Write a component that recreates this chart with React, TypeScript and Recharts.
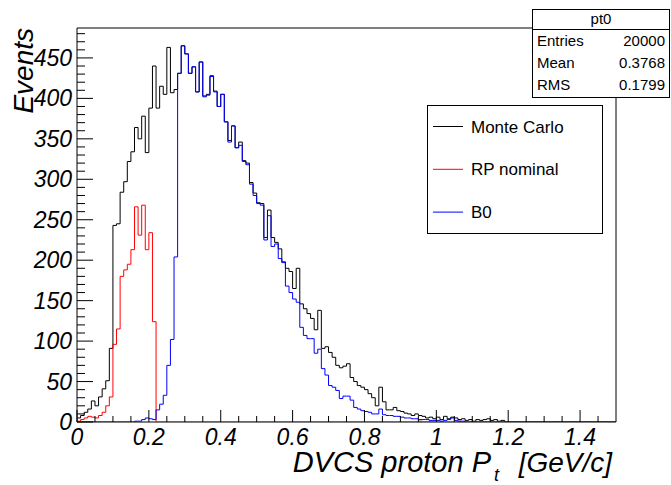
import React from 'react';
import { LineChart, Line, XAxis, YAxis, ReferenceArea } from 'recharts';

// ---- data (events per 0.01 GeV/c bin, bins start at 0) ----
const BIN_WIDTH = 0.01;
const N_BINS = 150;

const mcCounts = [
  5, 8, 12, 16, 26, 20, 31, 41, 51, 91,
  243, 245, 284, 297, 322, 334, 364, 350, 378, 333,
  388, 440, 388, 415, 405, 463, 407, 411, 431, 465,
  455, 431, 439, 408, 445, 403, 405, 428, 409, 390,
  405, 371, 348, 366, 339, 346, 323, 320, 296, 283,
  271, 270, 228, 262, 228, 222, 214, 198, 190, 186,
  165, 190, 146, 140, 134, 128, 114, 138, 91, 93,
  86, 80, 70, 67, 69, 72, 55, 50, 45, 43,
  40, 35, 30, 20, 43, 25, 15, 15, 18, 14,
  13, 11, 10, 8, 10, 8, 7, 5, 6, 4,
  6, 3, 7, 4, 6, 5, 3, 4, 2, 3,
  1, 3, 2, 3, 4, 2, 3, 1, 2, 0,
];

const rpCounts = [
  1, 3, 5, 7, 6, 5, 8, 12, 20, 31,
  96, 115, 180, 188, 195, 213, 266, 231, 268, 213,
  234, 124, 0, 0, 0, 0, 0, 0, 0, 0,
  0, 0, 0, 0, 0, 0, 0, 0, 0, 0,
  0, 0, 0, 0, 0, 0, 0, 0, 0, 0,
  0, 0, 0, 0, 0, 0, 0, 0, 0, 0,
  0, 0, 0, 0, 0, 0, 0, 0, 0, 0,
  0, 0, 0, 0, 0, 0, 0, 0, 0, 0,
  0, 0, 0, 0, 0, 0, 0, 0, 0, 0,
  0, 0, 0, 0, 0, 1, 0, 0, 1, 0,
  0, 0, 0, 0, 0, 0, 1, 0, 0, 0,
];

const b0Counts = [
  0, 0, 0, 0, 0, 0, 0, 0, 0, 0,
  0, 0, 0, 0, 0, 0, 1, 1, 3, 5,
  4, 3, 15, 22, 33, 70, 102, 204, 431, 465,
  455, 431, 439, 408, 445, 402, 404, 427, 408, 390,
  405, 371, 346, 366, 339, 342, 322, 318, 294, 280,
  270, 268, 225, 255, 217, 220, 202, 197, 168, 160,
  152, 148, 117, 107, 103, 103, 85, 90, 66, 58,
  45, 43, 39, 29, 32, 32, 27, 18, 16, 14,
  13, 12, 10, 10, 16, 9, 8, 8, 7, 7,
  6, 5, 5, 4, 4, 3, 3, 3, 2, 2,
  2, 1, 2, 3, 5, 2, 1, 1, 0, 0,
];

const seriesNames = ['Monte Carlo', 'RP nominal', 'B0'];
const seriesKeys = ['mc', 'rp', 'b0'];
const seriesColors = ['#000000', '#ff0000', '#0000ff'];

const xMajorTicks = [0, 0.2, 0.4, 0.6, 0.8, 1, 1.2, 1.4];
const xMajorLabels = ['0', '0.2', '0.4', '0.6', '0.8', '1', '1.2', '1.4'];
const yMajorTicks = [0, 50, 100, 150, 200, 250, 300, 350, 400, 450];
const Y_MAX = 487;
const X_MAX = 1.5;

const statsTitle = 'pt0';
const statsRows = [
  ['Entries', '20000'],
  ['Mean', '0.3768'],
  ['RMS', '0.1799'],
];

// ---- build table ----
const table: any[] = [];
for (let i = 0; i <= N_BINS; i++) {
  const x = Math.round(i * BIN_WIDTH * 1000) / 1000;
  table.push({
    x,
    mc: i < N_BINS ? mcCounts[i] ?? 0 : 0,
    rp: i < N_BINS ? rpCounts[i] ?? 0 : 0,
    b0: i < N_BINS ? b0Counts[i] ?? 0 : 0,
  });
}

const xTickValues: number[] = [];
for (let i = 0; i < 30; i++) xTickValues.push(Math.round(i * 5) / 100);
const yTickValues: number[] = [];
for (let v = 0; v <= 480; v += 10) yTickValues.push(v);

const AXIS_FONT = '"Liberation Sans", Arial, Helvetica, sans-serif';

const XTick = (props: any) => {
  const { x, y, payload } = props;
  const v = payload.value;
  const idx = xMajorTicks.findIndex((t) => Math.abs(t - v) < 1e-6);
  const major = idx >= 0;
  return (
    <g>
      <line x1={x} x2={x} y1={y} y2={y - (major ? 12 : 6)} stroke="#000" strokeWidth={1} />
      {major && (
        <text x={x} y={y + 23} textAnchor="middle" fontSize={23} fontStyle="italic" fontFamily={AXIS_FONT} fill="#000">
          {xMajorLabels[idx]}
        </text>
      )}
    </g>
  );
};

const YTick = (props: any) => {
  const { x, y, payload } = props;
  const v = payload.value;
  const major = yMajorTicks.includes(v);
  return (
    <g>
      <line x1={x} x2={x + (major ? 16 : 8)} y1={y} y2={y} stroke="#000" strokeWidth={1} />
      {major && (
        <text x={x - 5} y={y + 8} textAnchor="end" fontSize={23} fontStyle="italic" fontFamily={AXIS_FONT} fill="#000">
          {String(v)}
        </text>
      )}
    </g>
  );
};

export default function App() {
  return (
    <div style={{ position: 'absolute', left: 0, top: 0, width: 671, height: 485, background: '#fff' }}>
      <LineChart
        width={671}
        height={485}
        data={table}
        margin={{ top: 28, right: 55, bottom: 33, left: 37 }}
      >
        <XAxis
          dataKey="x"
          type="number"
          domain={[0, X_MAX]}
          ticks={xTickValues}
          interval={0}
          allowDataOverflow
          height={30}
          tickSize={0}
          tickMargin={0}
          axisLine={false}
          tickLine={false}
          tick={(p: any) => <XTick {...p} />}
        />
        <YAxis
          type="number"
          domain={[0, Y_MAX]}
          ticks={yTickValues}
          interval={0}
          allowDataOverflow
          width={40}
          tickSize={0}
          tickMargin={0}
          axisLine={false}
          tickLine={false}
          tick={(p: any) => <YTick {...p} />}
        />
        <ReferenceArea x1={0} x2={X_MAX} y1={0} y2={Y_MAX} fill="none" stroke="#000" strokeWidth={1} fillOpacity={0} />
        {seriesKeys.map((k, i) => (
          <Line
            key={k}
            dataKey={k}
            name={seriesNames[i]}
            type="stepAfter"
            stroke={seriesColors[i]}
            strokeWidth={1}
            dot={false}
            activeDot={false}
            isAnimationActive={false}
          />
        ))}
      </LineChart>
      <svg
        width={671}
        height={485}
        style={{ position: 'absolute', left: 0, top: 0, pointerEvents: 'none' }}
      >
        {/* stats box */}
        <rect x={532.5} y={9.5} width={137} height={88} fill="#fff" stroke="#000" strokeWidth={1} />
        <line x1={532.5} x2={669.5} y1={29.5} y2={29.5} stroke="#000" strokeWidth={1} />
        <text x={601} y={24} textAnchor="middle" fontSize={15} fontFamily={AXIS_FONT}>{statsTitle}</text>
        {statsRows.map((r, i) => (
          <g key={r[0]}>
            <text x={537} y={46 + i * 22} fontSize={15} fontFamily={AXIS_FONT}>{r[0]}</text>
            <text x={665} y={46 + i * 22} textAnchor="end" fontSize={15} fontFamily={AXIS_FONT}>{r[1]}</text>
          </g>
        ))}
        {/* legend */}
        <rect x={427.5} y={105.5} width={175} height={128} fill="#fff" stroke="#000" strokeWidth={1} />
        {seriesNames.map((n, i) => (
          <g key={n}>
            <line x1={433} x2={463} y1={126.5 + i * 42.8} y2={126.5 + i * 42.8} stroke={seriesColors[i]} strokeWidth={1} />
            <text x={471} y={132.5 + i * 42.8} fontSize={17} fontFamily={AXIS_FONT}>{n}</text>
          </g>
        ))}
        {/* axis titles */}
        <text
          transform="translate(33,28) rotate(-90)"
          x={0}
          y={0}
          textAnchor="end"
          fontSize={28}
          fontStyle="italic"
          fontFamily={AXIS_FONT}
        >
          Events
        </text>
        <text x={491} y={472} textAnchor="end" fontSize={29} fontStyle="italic" fontFamily={AXIS_FONT}>DVCS proton P</text>
        <text x={494} y={481} fontSize={18} fontStyle="italic" fontFamily={AXIS_FONT}>t</text>
        <text x={612} y={472} textAnchor="end" fontSize={28} fontStyle="italic" fontFamily={AXIS_FONT}>[GeV/c]</text>
      </svg>
    </div>
  );
}
